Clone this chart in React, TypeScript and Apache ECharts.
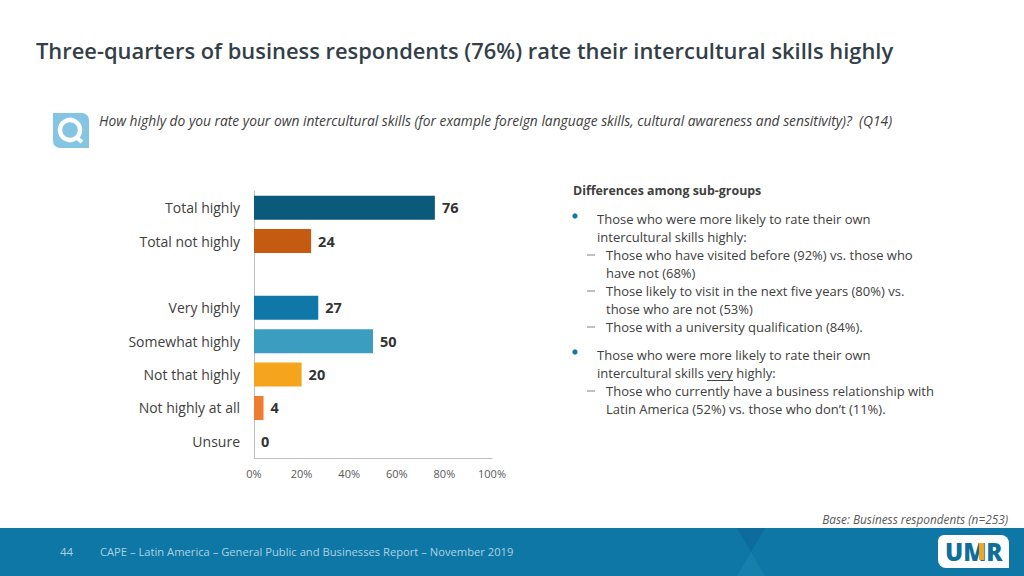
import React, { useEffect, useRef } from "react";
import * as echarts from "echarts";

const categories = ["Total highly", "Total not highly", "", "Very highly", "Somewhat highly", "Not that highly", "Not highly at all", "Unsure"];
const values: (number | null)[] = [76, 24, null, 27, 50, 20, 4, 0];
const barColors = ["#0B5A7C", "#C55A11", "#000000", "#1078A8", "#3B9DBF", "#F5A41D", "#ED7D31", "#999999"];
const xTicks = [0, 20, 40, 60, 80, 100];

const titleText = "Three-quarters of business respondents (76%) rate their intercultural skills highly";
const questionText = "How highly do you rate your own intercultural skills (for example foreign language skills, cultural awareness and sensitivity)?  (Q14)";
const panelHeading = "Differences among sub-groups";
const bulletLines: [number, string][] = [
  [219, "Those who were more likely to rate their own"],
  [237, "intercultural skills highly:"],
  [355, "Those who were more likely to rate their own"],
  [373, "intercultural skills very highly:"],
];
const subLines: [number, string, boolean][] = [
  [255, "Those who have visited before (92%) vs. those who", true],
  [273, "have not (68%)", false],
  [291, "Those likely to visit in the next five years (80%) vs.", true],
  [309, "those who are not (53%)", false],
  [327, "Those with a university qualification (84%).", true],
  [391, "Those who currently have a business relationship with", true],
  [409, "Latin America (52%) vs. those who don\u2019t (11%).", false],
];
const bulletDots = [216, 352];
const baseText = "Base: Business respondents (n=253)";
const pageNumber = "44";
const footerText = "CAPE \u2013 Latin America \u2013 General Public and Businesses Report \u2013 November 2019";

const FONT = "'Open Sans', sans-serif";

const t = (x: number, y: number, text: string, size: number, fill: string, extra: any = {}) => ({
  type: "text",
  x,
  y,
  silent: true,
  style: { text, fontFamily: FONT, fontSize: size, fill, verticalAlign: "middle", ...extra },
});

export default function App() {
  const ref = useRef<HTMLDivElement>(null);
  useEffect(() => {
    document.body.style.margin = "0";
    const chart = echarts.init(ref.current!, undefined, { renderer: "svg" });
    const elements: any[] = [
      {
        type: "rect",
        z: 0,
        silent: true,
        shape: { x: 0, y: 528, width: 1024, height: 48 },
        style: { fill: "#0F77A5" },
      },
      { type: "polygon", z: 1, silent: true, shape: { points: [[737, 528], [765, 528], [751, 552]] }, style: { fill: "#0D6C9B" } },
      { type: "polygon", z: 1, silent: true, shape: { points: [[751, 552], [765, 576], [737, 576]] }, style: { fill: "#167FAB" } },
      t(36, 50, titleText, 21.9, "#333F48", { fontWeight: 600 }),
      { type: "rect", silent: true, shape: { x: 53, y: 113, width: 36, height: 35, r: [0, 7, 0, 7] }, style: { fill: "#84C5E4" } },
      { type: "circle", silent: true, shape: { cx: 70, cy: 130, r: 10 }, style: { fill: "none", stroke: "#FFFFFF", lineWidth: 4.5 } },
      { type: "line", silent: true, shape: { x1: 76, y1: 137, x2: 82, y2: 142 }, style: { stroke: "#FFFFFF", lineWidth: 4 } },
      t(99, 120, questionText, 13.8, "#404040", { fontStyle: "italic" }),
      t(573, 190.5, panelHeading, 12.4, "#404040", { fontWeight: 700 }),
      ...bulletDots.map((y) => ({
        type: "circle",
        silent: true,
        shape: { cx: 575, cy: y, r: 2.6 },
        style: { fill: "#1078A8" },
      })),
      ...bulletLines.map(([y, s]) => t(597, y, s, 13, "#404040")),
      ...subLines.map(([y, s]) => t(606, y, s, 13, "#404040")),
      ...subLines
        .filter(([, , dash]) => dash)
        .map(([y]) => ({ type: "line", silent: true, shape: { x1: 587, y1: y, x2: 595, y2: y }, style: { stroke: "#808080", lineWidth: 1 } })),
      { type: "line", silent: true, shape: { x1: 707, y1: 380.5, x2: 733, y2: 380.5 }, style: { stroke: "#404040", lineWidth: 1 } },
      t(1008, 519, baseText, 11.8, "#595959", { fontStyle: "italic", align: "right" }),
      t(60, 551.5, pageNumber, 11.5, "#A9D3E4"),
      t(100, 551.5, footerText, 11.2, "#A9D3E4"),
      { type: "rect", z: 2, silent: true, shape: { x: 938, y: 535, width: 71, height: 33, r: [6, 8, 0, 8] }, style: { fill: "#FFFFFF" } },
      { ...t(945, 551.5, "UMR", 24, "#0F6F99", { fontWeight: 800 }), z: 3 },
      { type: "polygon", z: 4, silent: true, shape: { points: [[979, 543], [984, 543], [984, 560], [979, 560]] }, style: { fill: "#F5A41D" } },
    ];
    chart.setOption({
      animation: false,
      textStyle: { fontFamily: FONT },
      grid: { left: 254, right: 532, top: 191, height: 267, containLabel: false },
      xAxis: {
        type: "value",
        min: 0,
        max: 100,
        interval: 20,
        splitLine: { show: false },
        axisTick: { show: false },
        axisLine: { show: true, lineStyle: { color: "#BFBFBF" } },
        axisLabel: { color: "#595959", fontSize: 11, margin: 10, formatter: (v: number) => (xTicks.includes(v) ? `${v}%` : "") },
      },
      yAxis: {
        type: "category",
        inverse: true,
        data: categories,
        axisTick: { show: false },
        axisLine: { show: true, onZero: true, lineStyle: { color: "#BFBFBF" } },
        axisLabel: { color: "#404040", fontSize: 14, margin: 14, padding: [0, 0, 2, 0] },
      },
      series: [
        {
          type: "bar",
          barWidth: 24,
          data: values.map((v, i) => ({ value: v, itemStyle: { color: barColors[i] } })),
          label: {
            show: true,
            position: "right",
            distance: 7,
            color: "#333333",
            fontSize: 14.5,
            fontWeight: 700,
            formatter: (p: any) => (p.value == null ? "" : String(p.value)),
          },
        },
      ],
      graphic: { elements },
    });
    return () => chart.dispose();
  }, []);
  return <div ref={ref} style={{ width: 1024, height: 576 }} />;
}
